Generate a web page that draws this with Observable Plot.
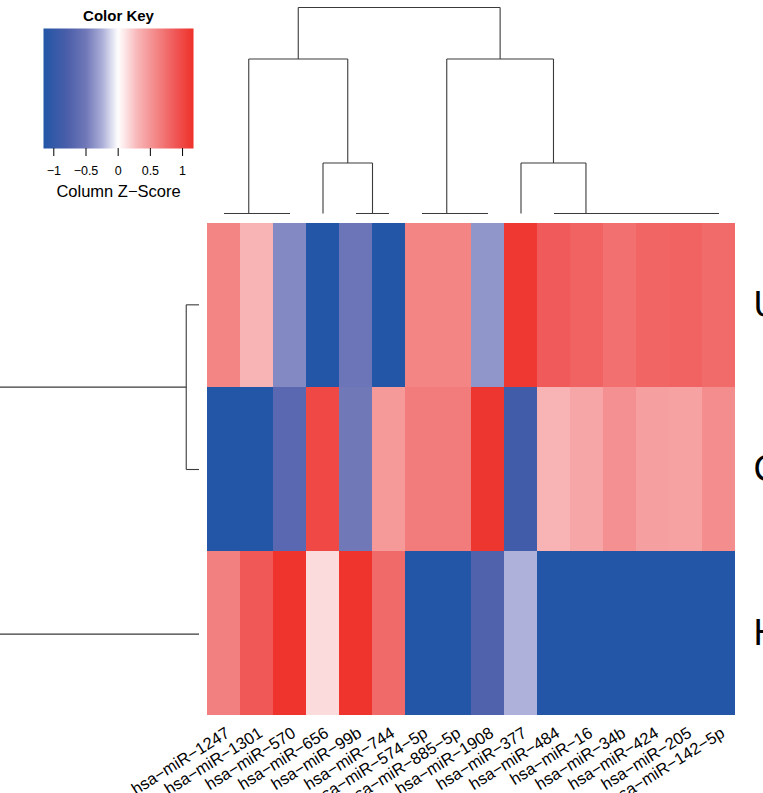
<!DOCTYPE html>
<html><head><meta charset="utf-8">
<script src="https://cdn.jsdelivr.net/npm/d3@7"></script>
<script src="https://cdn.jsdelivr.net/npm/@observablehq/plot@0.6"></script>
<style>
body{margin:0;background:#fff;}
#wrap{position:relative;width:763px;height:793px;overflow:hidden;background:#fff;}
#wrap svg{position:absolute;top:0;left:0;background:transparent;}
</style></head><body><div id="wrap"></div>
<script>
// ---- data ----
const colNames = ["hsa-miR-1247","hsa-miR-1301","hsa-miR-570","hsa-miR-656","hsa-miR-99b","hsa-miR-744",
  "hsa-miR-574-5p","hsa-miR-885-5p","hsa-miR-1908","hsa-miR-377","hsa-miR-484","hsa-miR-16",
  "hsa-miR-34b","hsa-miR-424","hsa-miR-205","hsa-miR-142-5p"];
const rowNames = ["U","C","H"];
const zU = [0.60, 0.32, -0.42, -1.15, -0.53, -1.15, 0.60, 0.60, -0.36, 1.12, 0.87, 0.82, 0.73, 0.80, 0.82, 0.76];
const zC = [-1.15, -1.15, -0.68, 1.00, -0.50, 0.48, 0.66, 0.66, 1.13, -0.88, 0.32, 0.40, 0.53, 0.44, 0.43, 0.55];
const zH = [0.63, 0.88, 1.15, 0.15, 1.15, 0.77, -1.15, -1.15, -0.75, -0.24, -1.15, -1.15, -1.15, -1.15, -1.15, -1.15];
// hclust-style merges (negative = leaf number in display order)
const colMerge = [[-2,-3],[-1,1],[-5,-6],[-4,3],[2,4],[-8,-9],[-7,6],[-15,-16],[-14,8],[-13,9],[-12,10],[-11,11],[-10,12],[7,13],[5,14]];
const colHeight = [0,0,0,0.98,3,0,0,0,0,0,0,0,0.98,3,4];
const rowMerge = [[-1,-2],[-3,1]];
const rowHeight = [1,20];
const keyTicks = [-1,-0.5,0,0.5,1];
const keyDomain = [-1.16, 1.17];

// ---- style ----
const colorDomain = [-1.16,-0.8,-0.5,-0.25,0,0.3,0.6,0.9,1.17];
const colorRange = ["#2256A6","#4A5EAA","#7078B8","#ABAED8","#FFFFFF","#F8B6B8","#F38585","#F05555","#EE3129"];
const colorScale = {type:"linear", domain:colorDomain, range:colorRange, clamp:true, interpolate:"rgb"};
const font = "'Liberation Sans', Arial, Helvetica, sans-serif";
const lineColor = "#3a3a3a";

const cells = [];
[zU, zC, zH].forEach((vals, r) => vals.forEach((z, c) => cells.push({row: rowNames[r], col: colNames[c], z})));

function dendroSegments(merge, heights) {
  const pos = [], segs = [];
  const get = k => k < 0 ? {p: -k - 0.5, h: 0} : pos[k - 1];
  merge.forEach(([a, b], i) => {
    const A = get(a), B = get(b), h = heights[i];
    segs.push({p1: A.p, h1: h, p2: B.p, h2: h});
    segs.push({p1: A.p, h1: h, p2: A.p, h2: A.h});
    segs.push({p1: B.p, h1: h, p2: B.p, h2: B.h});
    pos.push({p: (A.p + B.p) / 2, h});
  });
  return segs;
}
const colSegs = dendroSegments(colMerge, colHeight);
const rowSegs = dendroSegments(rowMerge, rowHeight);
const wrap = document.getElementById("wrap");

// main heatmap
wrap.append(Plot.plot({
  width: 763, height: 793, marginLeft: 207, marginRight: 28, marginTop: 222, marginBottom: 77,
  style: {fontFamily: font, background: "transparent", color: "#000"},
  x: {domain: colNames, padding: 0, axis: null},
  y: {domain: rowNames, padding: 0, axis: null},
  color: colorScale,
  marks: [
    Plot.cell(cells, {x: "col", y: "row", fill: "z", inset: 0}),
    Plot.text(colNames, {x: d => d, frameAnchor: "bottom", rotate: -32, textAnchor: "end", lineAnchor: "middle",
      dx: 4, dy: 15, fontSize: 16.5, fill: "#000", text: d => d.replaceAll("-", "\u2212")}),
    Plot.text(rowNames, {y: d => d, frameAnchor: "right", textAnchor: "start", dx: 18, fontSize: 36, fill: "#000"})
  ]
}));

// column dendrogram
wrap.append(Plot.plot({
  width: 763, height: 222, marginLeft: 207, marginRight: 28, marginTop: 7, marginBottom: 9,
  style: {background: "transparent"},
  x: {domain: [0, 16], axis: null},
  y: {domain: [0, 4], axis: null},
  marks: [Plot.link(colSegs, {x1: "p1", y1: "h1", x2: "p2", y2: "h2", stroke: lineColor, strokeWidth: 1.1})]
}));

// row dendrogram
wrap.append(Plot.plot({
  width: 207, height: 793, marginLeft: 0, marginRight: 8, marginTop: 222, marginBottom: 77,
  style: {background: "transparent"},
  x: {domain: [15, 0], axis: null},
  y: {domain: [0, 3], reverse: true, axis: null},
  marks: [Plot.link(rowSegs, {x1: "h1", y1: "p1", x2: "h2", y2: "p2", stroke: lineColor, strokeWidth: 1.1, clip: true})]
}));

// color key
wrap.append(Plot.plot({
  width: 210, height: 200, marginLeft: 43, marginRight: 17, marginTop: 28, marginBottom: 52,
  style: {fontFamily: font, background: "transparent", color: "#000"},
  x: {domain: keyDomain},
  y: {domain: [0, 1], axis: null},
  color: colorScale,
  marks: [
    Plot.raster({fill: (x, y) => x, x1: keyDomain[0], x2: keyDomain[1], y1: 0, y2: 1, pixelSize: 1}),
    Plot.axisX({ticks: keyTicks, tickSize: 8, tickPadding: 10, fontSize: 12.5, label: null,
      tickFormat: d => d < 0 ? "\u2212" + Math.abs(d) : String(d)}),
    Plot.text(["Color Key"], {frameAnchor: "top", dy: -18, fontWeight: "bold", fontSize: 15, fill: "#000"}),
    Plot.text(["Column Z\u2212Score"], {frameAnchor: "bottom", dy: 48, fontSize: 16.5, fill: "#000"})
  ]
}));
</script></body></html>
